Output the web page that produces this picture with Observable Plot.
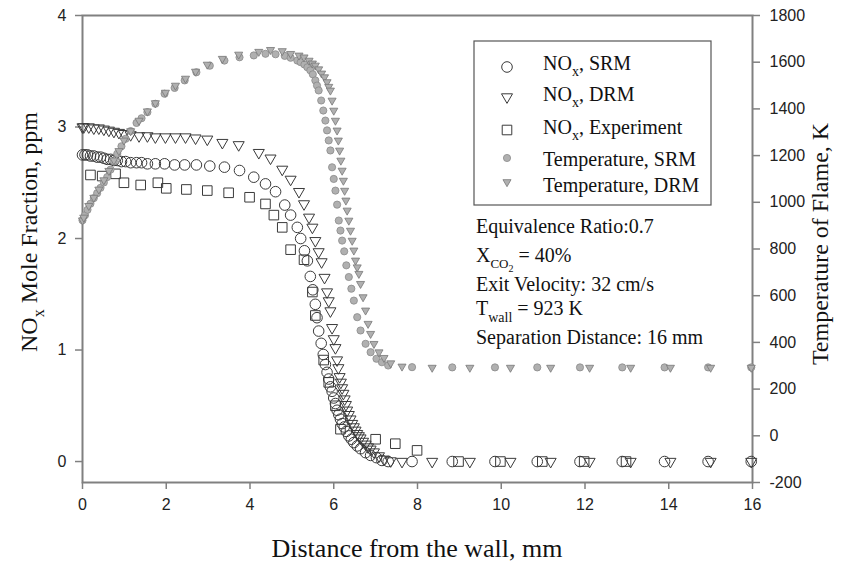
<!DOCTYPE html>
<html>
<head>
<meta charset="utf-8">
<script src="https://cdn.jsdelivr.net/npm/d3@7"></script>
<script src="https://cdn.jsdelivr.net/npm/@observablehq/plot@0.6"></script>
<style>
  html, body { margin: 0; padding: 0; background: #fff; }
  #chart { position: relative; width: 843px; height: 563px; }
</style>
</head>
<body>
<div id="chart"></div>
<script>
// ---------- data ----------
// SRM model grid (distance from wall, mm), NOx (ppm) and temperature (K)
const xSRM = [0, 0.06, 0.12, 0.19, 0.27, 0.35, 0.43, 0.51, 0.59, 0.67, 0.75, 0.83, 0.93, 1.03, 1.15, 1.29, 1.41, 1.55, 1.74, 1.96, 2.20, 2.44, 2.72, 3.04, 3.39, 3.75, 4.09, 4.37, 4.61, 4.83, 4.97, 5.13, 5.21, 5.30, 5.37, 5.44, 5.50, 5.56, 5.60, 5.64, 5.70, 5.75, 5.80, 5.84, 5.88, 5.92, 5.96, 6.00, 6.04, 6.08, 6.12, 6.16, 6.20, 6.25, 6.30, 6.36, 6.42, 6.48, 6.56, 6.64, 6.76, 6.88, 7.02, 7.15, 7.30, 7.87, 8.83, 9.85, 10.86, 11.88, 12.89, 13.90, 14.94, 15.97];
const noxSRM = [2.75, 2.75, 2.75, 2.74, 2.74, 2.73, 2.73, 2.72, 2.71, 2.71, 2.70, 2.70, 2.69, 2.69, 2.68, 2.68, 2.68, 2.67, 2.67, 2.67, 2.66, 2.66, 2.66, 2.65, 2.64, 2.61, 2.55, 2.49, 2.42, 2.30, 2.21, 2.10, 2.00, 1.89, 1.80, 1.66, 1.54, 1.41, 1.29, 1.17, 1.06, 0.96, 0.87, 0.80, 0.74, 0.67, 0.63, 0.57, 0.52, 0.46, 0.42, 0.38, 0.34, 0.31, 0.27, 0.23, 0.20, 0.17, 0.14, 0.115, 0.08, 0.055, 0.035, 0.01, 0.0, 0, 0, 0, 0, 0, 0, 0, 0, 0];
const tempSRM = [923, 945, 968, 994, 1018, 1039, 1062, 1085, 1108, 1140, 1175, 1208, 1240, 1272, 1305, 1340, 1360, 1386, 1422, 1465, 1490, 1522, 1557, 1585, 1607, 1621, 1629, 1636, 1634, 1627, 1619, 1607, 1600, 1590, 1578, 1565, 1548, 1522, 1500, 1479, 1436, 1393, 1350, 1308, 1265, 1222, 1150, 1100, 1050, 990, 922, 879, 836, 790, 730, 680, 630, 579, 508, 451, 394, 358, 330, 315, 301, 294, 293, 293, 293, 293, 293, 293, 293, 293];

// DRM model grid
const xDRM = [0, 0.03, 0.15, 0.27, 0.39, 0.51, 0.63, 0.75, 0.87, 0.99, 1.15, 1.35, 1.55, 1.74, 1.98, 2.22, 2.46, 2.70, 2.98, 3.34, 3.73, 4.21, 4.49, 4.77, 4.97, 5.17, 5.29, 5.41, 5.49, 5.56, 5.64, 5.71, 5.78, 5.84, 5.88, 5.92, 5.96, 6.00, 6.04, 6.08, 6.11, 6.14, 6.17, 6.20, 6.23, 6.26, 6.29, 6.32, 6.36, 6.40, 6.44, 6.48, 6.52, 6.56, 6.60, 6.64, 6.70, 6.76, 6.82, 6.88, 6.96, 7.08, 7.20, 7.36, 7.63, 8.35, 9.25, 10.22, 11.18, 12.11, 13.09, 14.04, 15.00, 15.97];
const noxDRM = [3.00, 3.00, 3.00, 2.99, 2.99, 2.98, 2.97, 2.96, 2.95, 2.94, 2.93, 2.92, 2.92, 2.91, 2.91, 2.91, 2.91, 2.90, 2.89, 2.86, 2.84, 2.77, 2.72, 2.62, 2.53, 2.42, 2.31, 2.19, 2.10, 1.98, 1.88, 1.79, 1.65, 1.52, 1.44, 1.35, 1.20, 1.10, 1.02, 0.91, 0.84, 0.76, 0.71, 0.66, 0.61, 0.56, 0.51, 0.46, 0.42, 0.38, 0.34, 0.31, 0.28, 0.25, 0.23, 0.21, 0.18, 0.155, 0.13, 0.11, 0.085, 0.05, 0.02, 0.005, 0, 0, 0, 0, 0, 0, 0, 0, 0, 0];
const tempDRM = [923, 935, 985, 1020, 1055, 1095, 1135, 1180, 1220, 1265, 1305, 1350, 1390, 1425, 1470, 1500, 1530, 1560, 1590, 1615, 1633, 1645, 1653, 1648, 1636, 1629, 1621, 1607, 1595, 1586, 1570, 1552, 1536, 1515, 1495, 1479, 1436, 1393, 1350, 1308, 1265, 1222, 1179, 1136, 1093, 1050, 1008, 965, 922, 879, 836, 794, 751, 722, 694, 651, 594, 537, 480, 437, 394, 358, 334, 311, 297, 292, 292, 292, 292, 292, 292, 292, 292, 292];

// Experiment
const xExp = [0.19, 0.47, 0.79, 0.99, 1.39, 1.80, 2.00, 2.48, 2.98, 3.49, 3.99, 4.37, 4.57, 4.77, 4.97, 5.29, 5.49, 5.56, 5.76, 5.88, 6.04, 6.16, 7.00, 7.47, 7.99, 8.98, 9.98, 10.98, 11.98, 12.98];
const noxExp = [2.57, 2.56, 2.58, 2.50, 2.48, 2.50, 2.45, 2.44, 2.43, 2.41, 2.37, 2.31, 2.21, 2.10, 1.90, 1.81, 1.52, 1.31, 0.91, 0.71, 0.50, 0.29, 0.20, 0.16, 0.10, 0, 0, 0, 0, 0];

// Axes
const xTicks = [0, 2, 4, 6, 8, 10, 12, 14, 16];
const noxTicks = [0, 1, 2, 3, 4];
const tempTicks = [-200, 0, 200, 400, 600, 800, 1000, 1200, 1400, 1600, 1800];
const noxDomain = [-0.188, 4];
const tempDomain = [-200, 1800];

const legendLabels = ["SRM", "DRM", "Experiment", "Temperature, SRM", "Temperature, DRM"];
const notes = ["Equivalence Ratio:0.7", "= 40%", "Exit Velocity: 32 cm/s", "= 923 K", "Separation Distance: 16 mm"];

// ---------- build ----------
// right (temperature) axis expressed in the left axis' coordinate
const tempToNox = d3.scaleLinear().domain(tempDomain).range(noxDomain);

const srm = xSRM.map((x, i) => ({x, nox: noxSRM[i], t: tempToNox(tempSRM[i])}));
const drm = xDRM.map((x, i) => ({x, nox: noxDRM[i], t: tempToNox(tempDRM[i])}));
const exp = xExp.map((x, i) => ({x, nox: noxExp[i]}));

const AX = "#808080";
const ink = "#3a3a3a";
const grayFill = "#b0b0b0";
const grayStroke = "#8a8a8a";

const chart = Plot.plot({
  width: 843,
  height: 563,
  marginLeft: 82,
  marginRight: 91,
  marginTop: 15,
  marginBottom: 81,
  style: {fontFamily: "'Liberation Sans', Arial, sans-serif", fontSize: "16px", background: "#fff", color: "#222"},
  x: {domain: [0, 16]},
  y: {domain: noxDomain},
  marks: [
    Plot.axisX({ticks: xTicks, tickSize: 7, tickPadding: 9, stroke: AX, strokeWidth: 1.5, fill: "#222", label: null, tickFormat: d => String(d)}),
    Plot.axisY({anchor: "left", ticks: noxTicks, tickSize: 7, tickPadding: 9, stroke: AX, strokeWidth: 1.5, fill: "#222", label: null, tickFormat: d => String(d)}),
    Plot.axisY({anchor: "right", ticks: tempTicks.map(tempToNox), tickSize: 7, tickPadding: 10, stroke: AX, strokeWidth: 1.5, fill: "#222", label: null,
      tickFormat: v => String(Math.round(tempToNox.invert(v)))}),
    Plot.frame({stroke: AX, strokeWidth: 2}),
    // NOx
    Plot.dot(srm, {x: "x", y: "nox", symbol: "circle", r: 5.3, stroke: ink, strokeWidth: 1, fill: "none"}),
    Plot.dot(drm, {x: "x", y: "nox", symbol: "triangle", rotate: 180, r: 4.1, stroke: ink, strokeWidth: 1, fill: "none"}),
    Plot.dot(exp, {x: "x", y: "nox", symbol: "square", r: 5.4, stroke: ink, strokeWidth: 1, fill: "none"}),
    // Temperature
    Plot.dot(srm, {x: "x", y: "t", symbol: "circle", r: 3.6, stroke: grayStroke, strokeWidth: 0.8, fill: grayFill}),
    Plot.dot(drm, {x: "x", y: "t", symbol: "triangle", rotate: 180, r: 3.0, stroke: "#777", strokeWidth: 0.8, fill: grayFill})
  ]
});
document.getElementById("chart").appendChild(chart);

// ---------- titles, legend, notes (text drawn into the same SVG) ----------
const svg = d3.select(chart);
const serif = "'Liberation Serif', 'Times New Roman', serif";

svg.append("text").attr("x", 417).attr("y", 557).attr("text-anchor", "middle")
  .attr("font-family", serif).attr("font-size", 26).attr("fill", "#111").text("Distance from the wall, mm");

const ly = svg.append("text").attr("transform", "translate(37,232) rotate(-90)").attr("text-anchor", "middle")
  .attr("font-family", serif).attr("font-size", 24).attr("fill", "#111");
ly.append("tspan").text("NO");
ly.append("tspan").attr("font-size", 16).attr("dy", 7).text("x");
ly.append("tspan").attr("dy", -7).text(" Mole Fraction, ppm");

svg.append("text").attr("transform", "translate(828,244) rotate(-90)").attr("text-anchor", "middle")
  .attr("font-family", serif).attr("font-size", 24).attr("fill", "#111").text("Temperature of Flame, K");

// legend box
const lg = svg.append("g").attr("text-anchor", "start");
lg.append("rect").attr("x", 474).attr("y", 41).attr("width", 237).attr("height", 164)
  .attr("fill", "#fff").attr("stroke", "#555").attr("stroke-width", 1.2);
const rowsY = [67, 97, 130, 158, 182];
const baseY = [70, 101, 134, 166, 192];
const sym = [
  {type: d3.symbolCircle, r: 5.3, fill: "none", stroke: ink, rot: 0, sw: 1},
  {type: d3.symbolTriangle, r: 4.1, fill: "none", stroke: ink, rot: 180, sw: 1},
  {type: d3.symbolSquare, r: 5.4, fill: "none", stroke: ink, rot: 0, sw: 1},
  {type: d3.symbolCircle, r: 3.6, fill: grayFill, stroke: grayStroke, rot: 0, sw: 0.8},
  {type: d3.symbolTriangle, r: 3.0, fill: grayFill, stroke: "#777", rot: 180, sw: 0.8}
];
sym.forEach((s, i) => {
  lg.append("path").attr("d", d3.symbol(s.type, Math.PI * s.r * s.r)())
    .attr("transform", `translate(507,${rowsY[i]}) rotate(${s.rot})`)
    .attr("fill", s.fill).attr("stroke", s.stroke).attr("stroke-width", s.sw);
  const t = lg.append("text").attr("x", 543).attr("y", baseY[i]).attr("text-anchor", "start")
    .attr("font-family", serif).attr("font-size", 20).attr("fill", "#111");
  if (i < 3) {
    t.append("tspan").text("NO");
    t.append("tspan").attr("font-size", 14).attr("dy", 6).text("x");
    t.append("tspan").attr("dy", -6).text(", " + legendLabels[i]);
  } else {
    t.text(legendLabels[i]);
  }
});

// notes
const ng = svg.append("g").attr("font-family", serif).attr("font-size", 20).attr("fill", "#111").attr("text-anchor", "start");
ng.append("text").attr("x", 476).attr("y", 233).text(notes[0]);
const n2 = ng.append("text").attr("x", 476).attr("y", 262);
n2.append("tspan").text("X");
n2.append("tspan").attr("font-size", 13).attr("dy", 6).text("CO");
n2.append("tspan").attr("font-size", 10).attr("dy", 4).text("2");
n2.append("tspan").attr("dy", -10).text(" " + notes[1]);
ng.append("text").attr("x", 476).attr("y", 291).text(notes[2]);
const n4 = ng.append("text").attr("x", 476).attr("y", 315);
n4.append("tspan").text("T");
n4.append("tspan").attr("font-size", 14).attr("dy", 7).text("wall");
n4.append("tspan").attr("dy", -7).text(" " + notes[3]);
ng.append("text").attr("x", 476).attr("y", 344).text(notes[4]);
</script>
</body>
</html>
